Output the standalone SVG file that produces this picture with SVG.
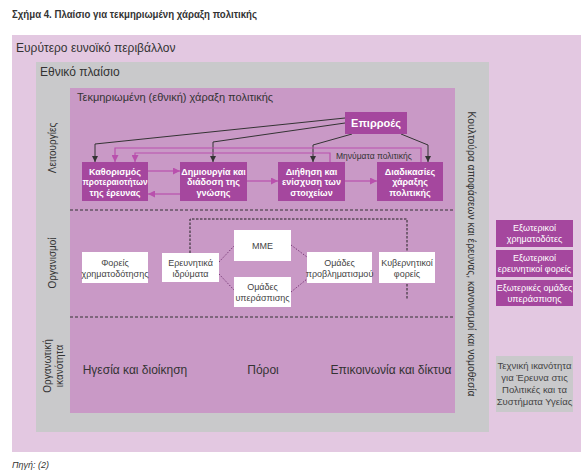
<svg xmlns="http://www.w3.org/2000/svg" width="588" height="474" viewBox="0 0 588 474">
<defs>
<style>
text{font-family:"Liberation Sans",Arial,sans-serif;}
.title{font-size:11px;font-weight:bold;fill:#333;}
.lbl{font-size:12px;fill:#333;}
.lbl11{font-size:11px;fill:#333;}
.side{font-size:10px;fill:#333;}
.dk{fill:#a5479e;}
.dkt{font-size:9px;font-weight:bold;fill:#fff;text-anchor:middle;}
.ext{font-size:9px;fill:#fff;text-anchor:middle;}
.wh{fill:#fff;}
.wht{font-size:9px;fill:#444;text-anchor:middle;}
.row3{font-size:12px;fill:#333;text-anchor:middle;}
.blk{fill:none;stroke:#333;stroke-width:1;marker-end:url(#ab);}
.pnk{fill:none;stroke:#b950ad;stroke-width:1.2;marker-end:url(#ap);}
.sep{stroke:#333;stroke-width:1;stroke-dasharray:3,2;}
.dsh{fill:none;stroke:#222;stroke-width:1;stroke-dasharray:2.5,1.5;}
.dot{fill:none;stroke:#7b3c7a;stroke-width:1;stroke-dasharray:1.5,1.5;}
</style>
<marker id="ab" viewBox="0 0 10 10" refX="10" refY="5" markerWidth="6" markerHeight="7" markerUnits="userSpaceOnUse" orient="auto"><path d="M0,0 L10,5 L0,10 z" fill="#333"/></marker>
<marker id="ap" viewBox="0 0 10 10" refX="10" refY="5" markerWidth="7" markerHeight="7" markerUnits="userSpaceOnUse" orient="auto"><path d="M0,0 L10,5 L0,10 z" fill="#b950ad"/></marker>
</defs>
<rect width="588" height="474" fill="#fff"/>
<text class="title" x="12" y="18" textLength="245" lengthAdjust="spacingAndGlyphs">Σχήμα 4. Πλαίσιο για τεκμηριωμένη χάραξη πολιτικής</text>

<g id="outer"><rect x="12" y="35" width="569" height="417" fill="#e3c8e1"/>
<text class="lbl" x="16" y="52">Ευρύτερο ευνοϊκό περιβάλλον</text></g>
<g id="national"><rect x="36" y="62" width="453" height="370" fill="#c9c9cb"/>
<text class="lbl" x="40" y="76">Εθνικό πλαίσιο</text>
<text class="lbl11" transform="translate(472,254) rotate(90)" text-anchor="middle" dominant-baseline="central" textLength="285" lengthAdjust="spacingAndGlyphs">Κουλτούρα αποφάσεων και έρευνας, κανονισμοί και νομοθεσία</text>
<text class="side" transform="translate(52,148) rotate(-90)" text-anchor="middle" dominant-baseline="central">Λειτουργίες</text>
<text class="side" transform="translate(52,263) rotate(-90)" text-anchor="middle" dominant-baseline="central">Οργανισμοί</text>
<text class="side" transform="translate(47,366) rotate(-90)" text-anchor="middle" dominant-baseline="central">Οργανωτική</text>
<text class="side" transform="translate(59,366) rotate(-90)" text-anchor="middle" dominant-baseline="central">ικανότητα</text></g>
<g id="policy"><rect x="70" y="88" width="385" height="325" fill="#c999c6"/>
<text class="lbl11" x="77" y="101">Τεκμηριωμένη (εθνική) χάραξη πολιτικής</text>
<line class="sep" x1="70" y1="210" x2="455" y2="210"/>
<line class="sep" x1="70" y1="317" x2="455" y2="317"/></g>

<g id="connectors">
<path class="blk" d="M345,118 L95,144 L95,162"/>
<path class="blk" d="M345,123 L213,142 L213,162"/>
<path class="blk" d="M352,134 L313,145 L313,162"/>
<path class="blk" d="M401,134 L428,145 L428,162"/>
<path class="pnk" d="M421,162 L421,148 L115,148 L115,162"/>
<path class="pnk" d="M330,162 L330,153 L135,153 L135,162"/>
<path class="pnk" d="M148,171 L180,171"/>
<path class="pnk" d="M180,194 L148,194"/>
<path class="pnk" d="M247,181 L278,181"/>
<path class="pnk" d="M345,181 L377,181"/>
<path class="dsh" d="M190,253 V219 H407 V300"/>
<path class="dot" d="M219,262 L234,246"/>
<path class="dot" d="M219,274 L234,290"/>
<path class="dot" d="M291,245 L307,257"/>
<path class="dot" d="M291,292 L307,279"/>
<text x="336" y="159" style="font-size:8.5px;fill:#333">Μηνύματα πολιτικής</text>
</g>

<g id="epirroes"><rect class="dk" x="345" y="112" width="62" height="22"/>
<text class="dkt" x="376" y="127" style="font-size:11px">Επιρροές</text></g>

<g id="kathorismos"><rect class="dk" x="82" y="162" width="66" height="39"/>
<text class="dkt" x="115" y="174.5">Καθορισμός</text>
<text class="dkt" x="115" y="185" textLength="65" lengthAdjust="spacingAndGlyphs">προτεραιοτήτων</text>
<text class="dkt" x="115" y="195.5">της έρευνας</text></g>
<g id="dimiourgia"><rect class="dk" x="180" y="162" width="67" height="39"/>
<text class="dkt" x="213.5" y="174.5">Δημιουργία και</text>
<text class="dkt" x="213.5" y="185">διάδοση της</text>
<text class="dkt" x="213.5" y="195.5">γνώσης</text></g>
<g id="diithisi"><rect class="dk" x="278" y="162" width="67" height="39"/>
<text class="dkt" x="311.5" y="174.5">Διήθηση και</text>
<text class="dkt" x="311.5" y="185">ενίσχυση των</text>
<text class="dkt" x="311.5" y="195.5">στοιχείων</text></g>
<g id="diadikasies"><rect class="dk" x="377" y="162" width="66" height="39"/>
<text class="dkt" x="410" y="174.5">Διαδικασίες</text>
<text class="dkt" x="410" y="185">χάραξης</text>
<text class="dkt" x="410" y="195.5">πολιτικής</text></g>

<g id="fores"><rect class="wh" x="82" y="252" width="66" height="31"/>
<text class="wht" x="115" y="266">Φορείς</text>
<text class="wht" x="115" y="277">χρηματοδότησης</text></g>
<g id="ereunitika"><rect class="wh" x="162" y="253" width="57" height="29"/>
<text class="wht" x="190.5" y="266">Ερευνητικά</text>
<text class="wht" x="190.5" y="277">ιδρύματα</text></g>
<g id="mme"><rect class="wh" x="234" y="230" width="57" height="31"/>
<text class="wht" x="262.5" y="249">ΜΜΕ</text></g>
<g id="yperaspisi"><rect class="wh" x="234" y="277" width="57" height="30"/>
<text class="wht" x="262.5" y="290">Ομάδες</text>
<text class="wht" x="262.5" y="301">υπεράσπισης</text></g>
<g id="provlimatismou"><rect class="wh" x="307" y="252" width="65" height="31"/>
<text class="wht" x="339.5" y="266">Ομάδες</text>
<text class="wht" x="339.5" y="277">προβληματισμού</text></g>
<g id="kyvernitikoi"><rect class="wh" x="379" y="252" width="56" height="31"/>
<text class="wht" x="407" y="266">Κυβερνητικοί</text>
<text class="wht" x="407" y="277">φορείς</text></g>

<g id="row3">
<text class="row3" x="135" y="374">Ηγεσία και διοίκηση</text>
<text class="row3" x="263" y="374">Πόροι</text>
<text class="row3" x="391" y="374">Επικοινωνία και δίκτυα</text></g>

<g id="ext1"><rect class="dk" x="496" y="220" width="77" height="27"/>
<text class="ext" x="534.5" y="231">Εξωτερικοί</text>
<text class="ext" x="534.5" y="242">χρηματοδότες</text></g>
<g id="ext2"><rect class="dk" x="496" y="250" width="77" height="27"/>
<text class="ext" x="534.5" y="261">Εξωτερικοί</text>
<text class="ext" x="534.5" y="272">ερευνητικοί φορείς</text></g>
<g id="ext3"><rect class="dk" x="496" y="280" width="77" height="26"/>
<text class="ext" x="534.5" y="291">Εξωτερικές ομάδες</text>
<text class="ext" x="534.5" y="302">υπεράσπισης</text></g>
<g id="techniki"><rect x="496" y="356" width="77" height="56" fill="#c9c9cb"/>
<text class="wht" x="534.5" y="369" style="font-size:9.5px">Τεχνική ικανότητα</text>
<text class="wht" x="534.5" y="381" style="font-size:9.5px">για Έρευνα στις</text>
<text class="wht" x="534.5" y="393" style="font-size:9.5px">Πολιτικές και τα</text>
<text class="wht" x="534.5" y="405" style="font-size:9.5px">Συστήματα Υγείας</text></g>

<text x="12" y="468" style="font-size:9px;font-style:italic;fill:#333">Πηγή: (2)</text>
</svg>
